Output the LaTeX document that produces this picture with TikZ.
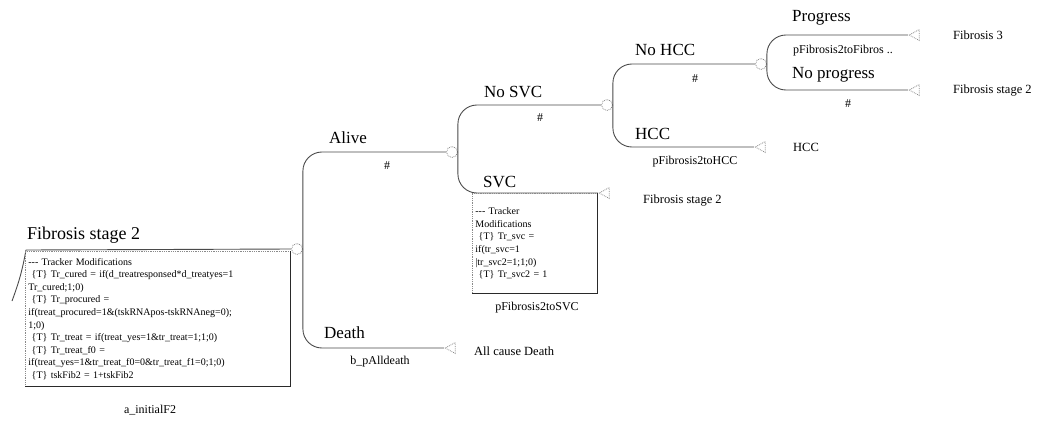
\documentclass[tikz,border=0pt]{standalone}
\usepackage{fontspec}
\setmainfont{Liberation Serif}
\usetikzlibrary{shapes.geometric}
\definecolor{branch-line}{HTML}{4A4A4A}
\definecolor{node-border}{HTML}{8A8A8A}
\definecolor{box-border}{HTML}{2A2A2A}
\tikzset{
  tree-branch/.style={draw=branch-line, line width=0.9pt, rounded corners=19pt},
  chance-node/.style={
    circle, draw=node-border, densely dotted, line width=0.8pt,
    inner sep=0pt, minimum size=11pt
  },
  term-node/.style={
    isosceles triangle, shape border rotate=180, draw=node-border,
    densely dotted, line width=0.8pt, inner sep=0pt,
    minimum height=10pt, minimum width=11pt, isosceles triangle stretches
  },
  branch-label/.style={anchor=west, inner sep=0pt, font=\fontsize{17}{19}\selectfont},
  prob-label/.style={inner sep=0pt, font=\fontsize{12}{14}\selectfont},
  term-label/.style={anchor=west, inner sep=0pt, font=\fontsize{12.5}{14}\selectfont},
  tracker-box/.style={
    draw=node-border, densely dotted, line width=0.8pt, anchor=north west,
    align=left, inner sep=2pt, font=\fontsize{10}{12.6}\selectfont
  }
}

\begin{document}
\begin{tikzpicture}[x=1pt, y=-1pt]
  \useasboundingbox (0,0) rectangle (1047,424);

  % Chance nodes
  \node[chance-node] (c1) at (297,249) {};
  \node[chance-node] (c2) at (452,152) {};
  \node[chance-node] (c3) at (607,105) {};
  \node[chance-node] (c4) at (761,64) {};

  % Terminal nodes
  \node[term-node] (t-death)  at (452,348) {};
  \node[term-node] (t-svc)    at (606,193) {};
  \node[term-node] (t-hcc)    at (762,147) {};
  \node[term-node] (t-prog)   at (916,35) {};
  \node[term-node] (t-noprog) at (916,90) {};

  % Root branch
  \coordinate (root-in)    at (12,301);
  \coordinate (root-start) at (26,250);
  \draw[tree-branch, sharp corners] (root-in) to[bend right=5] (root-start);
  \draw[tree-branch] (root-start) -- (c1.west);
  \node[branch-label, font=\fontsize{18}{20}\selectfont] (l-root) at (27,235) {Fibrosis stage 2};
  \node[tracker-box, text width=259pt, minimum height=135pt, minimum width=265pt] (b-root) at (25,251) {%
-{}-{}- Tracker Modifications\\
\ \{T\} Tr\_cured = if(d\_treatresponsed*d\_treatyes=1\\
Tr\_cured;1;0)\\
\ \{T\} Tr\_procured =\\
if(treat\_procured=1\&(tskRNApos-tskRNAneg=0);\\
1;0)\\
\ \{T\} Tr\_treat = if(treat\_yes=1\&tr\_treat=1;1;0)\\
\ \{T\} Tr\_treat\_f0 =\\
if(treat\_yes=1\&tr\_treat\_f0=0\&tr\_treat\_f1=0;1;0)\\
\ \{T\} tskFib2 = 1+tskFib2};
  \draw[box-border, line width=1pt] (b-root.north east) -- (b-root.south east) -- (b-root.south west);
  \node[prob-label] (p-root) at (150,410) {a\_initialF2};

  % Alive / Death
  \draw[tree-branch] (c1.east) |- (c2.west);
  \draw[tree-branch] (c1.east) |- (t-death.west);
  \node[branch-label] (l-alive) at (329,138) {Alive};
  \node[prob-label] (p-alive) at (387,166) {\#};
  \node[branch-label] (l-death) at (324,333) {Death};
  \node[prob-label] (p-death) at (380,362) {b\_pAlldeath};
  \node[term-label] (e-death) at (474,351) {All cause Death};

  % No SVC / SVC
  \draw[tree-branch] (c2.east) |- (c3.west);
  \draw[tree-branch] (c2.east) |- (t-svc.west);
  \node[branch-label] (l-nosvc) at (484,92) {No SVC};
  \node[prob-label] (p-nosvc) at (540,118) {\#};
  \node[branch-label] (l-svc) at (483,182) {SVC};
  \node[tracker-box, text width=119pt, minimum height=100pt, minimum width=125pt] (b-svc) at (472,193) {%
-{}-{}- Tracker\\
Modifications\\
\ \{T\} Tr\_svc =\\
if(tr\_svc=1\\
|tr\_svc2=1;1;0)\\
\ \{T\} Tr\_svc2 = 1};
  \draw[box-border, line width=1pt] (b-svc.north east) -- (b-svc.south east) -- (b-svc.south west);
  \node[prob-label] (p-svc) at (537,308) {pFibrosis2toSVC};
  \node[term-label] (e-svc) at (643,201) {Fibrosis stage 2};

  % No HCC / HCC
  \draw[tree-branch] (c3.east) |- (c4.west);
  \draw[tree-branch] (c3.east) |- (t-hcc.west);
  \node[branch-label] (l-nohcc) at (635,50) {No HCC};
  \node[prob-label] (p-nohcc) at (695,79) {\#};
  \node[branch-label] (l-hcc) at (635,134) {HCC};
  \node[prob-label] (p-hcc) at (695,162) {pFibrosis2toHCC};
  \node[term-label] (e-hcc) at (793,147) {HCC};

  % Progress / No progress
  \draw[tree-branch] (c4.east) |- (t-prog.west);
  \draw[tree-branch] (c4.east) |- (t-noprog.west);
  \node[branch-label] (l-prog) at (792,18) {Progress};
  \node[prob-label, anchor=west] (p-prog) at (793,51) {pFibrosis2toFibros ..};
  \node[branch-label] (l-noprog) at (792,75) {No progress};
  \node[prob-label] (p-noprog) at (848,104) {\#};
  \node[term-label] (e-prog) at (953,35) {Fibrosis 3};
  \node[term-label] (e-noprog) at (953,91) {Fibrosis stage 2};
\end{tikzpicture}
\end{document}
